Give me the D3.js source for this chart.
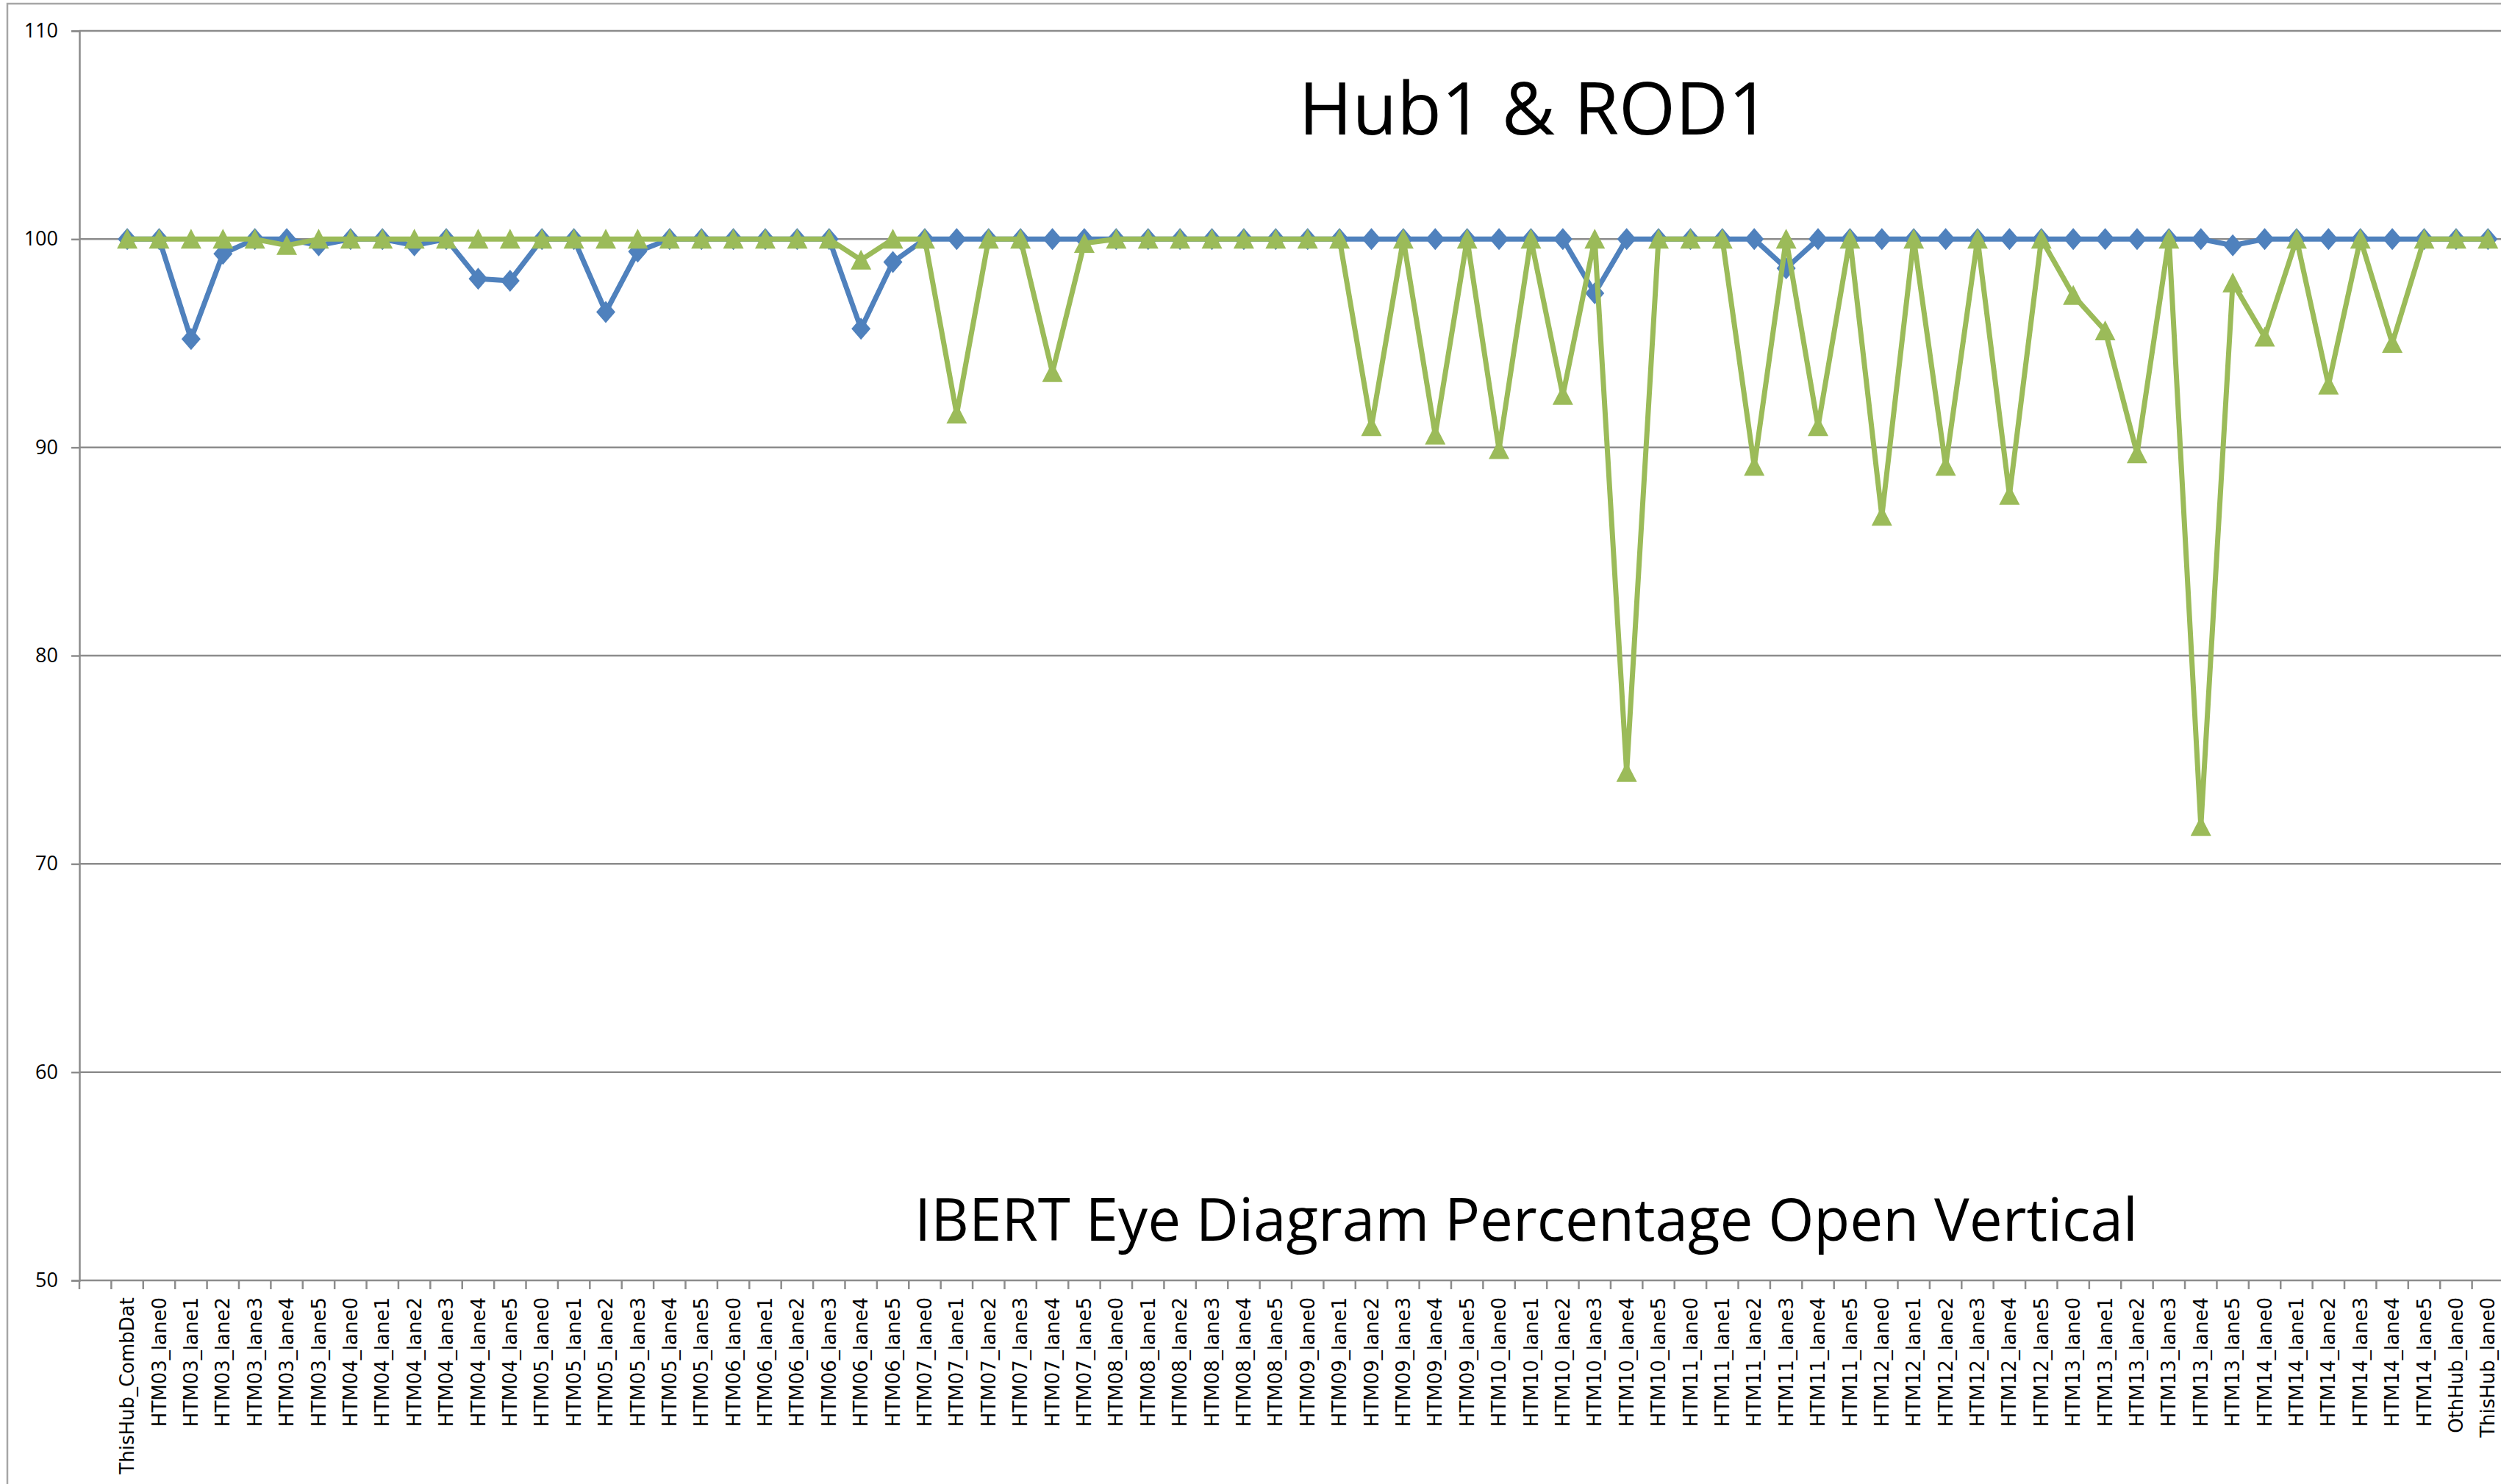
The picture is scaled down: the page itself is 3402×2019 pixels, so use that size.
<!DOCTYPE html>
<html>
<head>
<meta charset="utf-8">
<script src="https://cdn.jsdelivr.net/npm/d3@7"></script>
<style>
  body { margin: 0; background: #fff; }
  svg { display: block; }
</style>
</head>
<body>
<div id="chart"></div>
<script>
const categories = [
  'ThisHub_CombDat',
  'HTM03_lane0', 'HTM03_lane1', 'HTM03_lane2', 'HTM03_lane3', 'HTM03_lane4', 'HTM03_lane5',
  'HTM04_lane0', 'HTM04_lane1', 'HTM04_lane2', 'HTM04_lane3', 'HTM04_lane4', 'HTM04_lane5',
  'HTM05_lane0', 'HTM05_lane1', 'HTM05_lane2', 'HTM05_lane3', 'HTM05_lane4', 'HTM05_lane5',
  'HTM06_lane0', 'HTM06_lane1', 'HTM06_lane2', 'HTM06_lane3', 'HTM06_lane4', 'HTM06_lane5',
  'HTM07_lane0', 'HTM07_lane1', 'HTM07_lane2', 'HTM07_lane3', 'HTM07_lane4', 'HTM07_lane5',
  'HTM08_lane0', 'HTM08_lane1', 'HTM08_lane2', 'HTM08_lane3', 'HTM08_lane4', 'HTM08_lane5',
  'HTM09_lane0', 'HTM09_lane1', 'HTM09_lane2', 'HTM09_lane3', 'HTM09_lane4', 'HTM09_lane5',
  'HTM10_lane0', 'HTM10_lane1', 'HTM10_lane2', 'HTM10_lane3', 'HTM10_lane4', 'HTM10_lane5',
  'HTM11_lane0', 'HTM11_lane1', 'HTM11_lane2', 'HTM11_lane3', 'HTM11_lane4', 'HTM11_lane5',
  'HTM12_lane0', 'HTM12_lane1', 'HTM12_lane2', 'HTM12_lane3', 'HTM12_lane4', 'HTM12_lane5',
  'HTM13_lane0', 'HTM13_lane1', 'HTM13_lane2', 'HTM13_lane3', 'HTM13_lane4', 'HTM13_lane5',
  'HTM14_lane0', 'HTM14_lane1', 'HTM14_lane2', 'HTM14_lane3', 'HTM14_lane4', 'HTM14_lane5',
  'OthHub_lane0', 'ThisHub_lane0'
];

// series 1 (blue diamonds)
const hub1 = [
  100,
  100, 95.2, 99.3, 100, 100, 99.7,
  100, 100, 99.7, 100, 98.1, 98.0,
  100, 100, 96.5, 99.4, 100, 100,
  100, 100, 100, 100, 95.7, 98.9,
  100, 100, 100, 100, 100, 100,
  100, 100, 100, 100, 100, 100,
  100, 100, 100, 100, 100, 100,
  100, 100, 100, 97.4, 100, 100,
  100, 100, 100, 98.6, 100, 100,
  100, 100, 100, 100, 100, 100,
  100, 100, 100, 100, 100, 99.7,
  100, 100, 100, 100, 100, 100,
  100, 100
];

// series 2 (green triangles)
const rod1 = [
  100,
  100, 100, 100, 100, 99.7, 100,
  100, 100, 100, 100, 100, 100,
  100, 100, 100, 100, 100, 100,
  100, 100, 100, 100, 99.0, 100,
  100, 91.6, 100, 100, 93.6, 99.8,
  100, 100, 100, 100, 100, 100,
  100, 100, 91.0, 100, 90.6, 100,
  89.9, 100, 92.5, 100, 74.4, 100,
  100, 100, 89.1, 100, 91.0, 100,
  86.7, 100, 89.1, 100, 87.7, 100,
  97.3, 95.6, 89.7, 100, 71.8, 97.9,
  95.3, 100, 93.0, 100, 95.0, 100,
  100, 100
];

const yTicks = [50, 60, 70, 80, 90, 100, 110];
const title = 'Hub1 & ROD1';
const subtitle = 'IBERT Eye Diagram Percentage Open Vertical';

const width = 3402, height = 2019;
const plot = { left: 108, top: 42, right: 3406, bottom: 1742 };
const gridColor = '#8c8c8c';
const blue = '#4f81bd', green = '#9bbb59';

const svg = d3.select('#chart').append('svg')
  .attr('width', width)
  .attr('height', height);

// outer chart border (right and bottom fall outside the picture)
svg.append('rect')
  .attr('x', 10).attr('y', 5)
  .attr('width', 3600).attr('height', 2100)
  .attr('fill', 'none')
  .attr('stroke', '#a6a6a6')
  .attr('stroke-width', 2.5);

// first slot on the category axis is empty in the original
let x = d3.scaleBand()
  .domain([''].concat(categories))
  .range([plot.left, plot.right]);
let y = d3.scaleLinear()
  .domain([50, 110])
  .range([plot.bottom, plot.top]);

// gridlines
svg.append('g')
  .selectAll('line')
  .data(yTicks)
  .join('line')
  .attr('x1', plot.left).attr('x2', plot.right)
  .attr('y1', d => y(d)).attr('y2', d => y(d))
  .attr('stroke', gridColor)
  .attr('stroke-width', 2.5);

// y axis
let yAxis = d3.axisLeft(y).tickValues(yTicks).tickSize(11).tickPadding(18);
svg.append('g')
  .attr('transform', `translate(${plot.left},0)`)
  .call(yAxis)
  .call(g => g.select('.domain').attr('stroke', gridColor).attr('stroke-width', 2.5))
  .call(g => g.selectAll('.tick line').attr('stroke', gridColor).attr('stroke-width', 2.5))
  .call(g => g.selectAll('.tick text')
    .attr('fill', '#000')
    .style('font-family', "'Open Sans', sans-serif")
    .style('font-size', '27px'));

// x axis tick marks sit between categories
let edges = x.domain().map(d => x(d)).concat([plot.right]);
svg.append('g')
  .selectAll('line')
  .data(edges)
  .join('line')
  .attr('x1', d => d).attr('x2', d => d)
  .attr('y1', plot.bottom).attr('y2', plot.bottom + 12)
  .attr('stroke', gridColor)
  .attr('stroke-width', 2.5);

let xAxis = d3.axisBottom(x).tickSize(0);
svg.append('g')
  .attr('transform', `translate(0,${plot.bottom})`)
  .call(xAxis)
  .call(g => g.select('.domain').remove())
  .call(g => g.selectAll('.tick text')
    .attr('transform', 'rotate(-90)')
    .attr('x', -23)
    .attr('y', 0)
    .attr('dy', '0.35em')
    .attr('text-anchor', 'end')
    .attr('fill', '#000')
    .style('font-family', "'DejaVu Sans', sans-serif")
    .style('font-size', '26px'));

const cx = (d, i) => x(categories[i]) + x.bandwidth() / 2;
let line = d3.line()
  .x(cx)
  .y(d => y(d));

function drawSeries(values, color, symbolPath) {
  let g = svg.append('g');
  g.append('path')
    .datum(values)
    .attr('d', line)
    .attr('fill', 'none')
    .attr('stroke', color)
    .attr('stroke-width', 7)
    .attr('stroke-linejoin', 'round');
  g.selectAll('path.marker')
    .data(values)
    .join('path')
    .classed('marker', true)
    .attr('d', symbolPath)
    .attr('fill', color)
    .attr('transform', (d, i) => `translate(${cx(d, i)},${y(d)})`);
}

drawSeries(hub1, blue, 'M0,-15L13,0L0,15L-13,0Z');
drawSeries(rod1, green, 'M0,-14L14,13L-14,13Z');

// titles inside the plot
svg.append('text')
  .attr('x', 2087).attr('y', 183)
  .attr('text-anchor', 'middle')
  .style('font-family', "'Open Sans', sans-serif")
  .style('font-size', '99px')
  .text(title);

svg.append('text')
  .attr('x', 2076).attr('y', 1688)
  .attr('text-anchor', 'middle')
  .style('font-family', "'Open Sans', sans-serif")
  .style('font-size', '80px')
  .text(subtitle);
</script>
</body>
</html>
